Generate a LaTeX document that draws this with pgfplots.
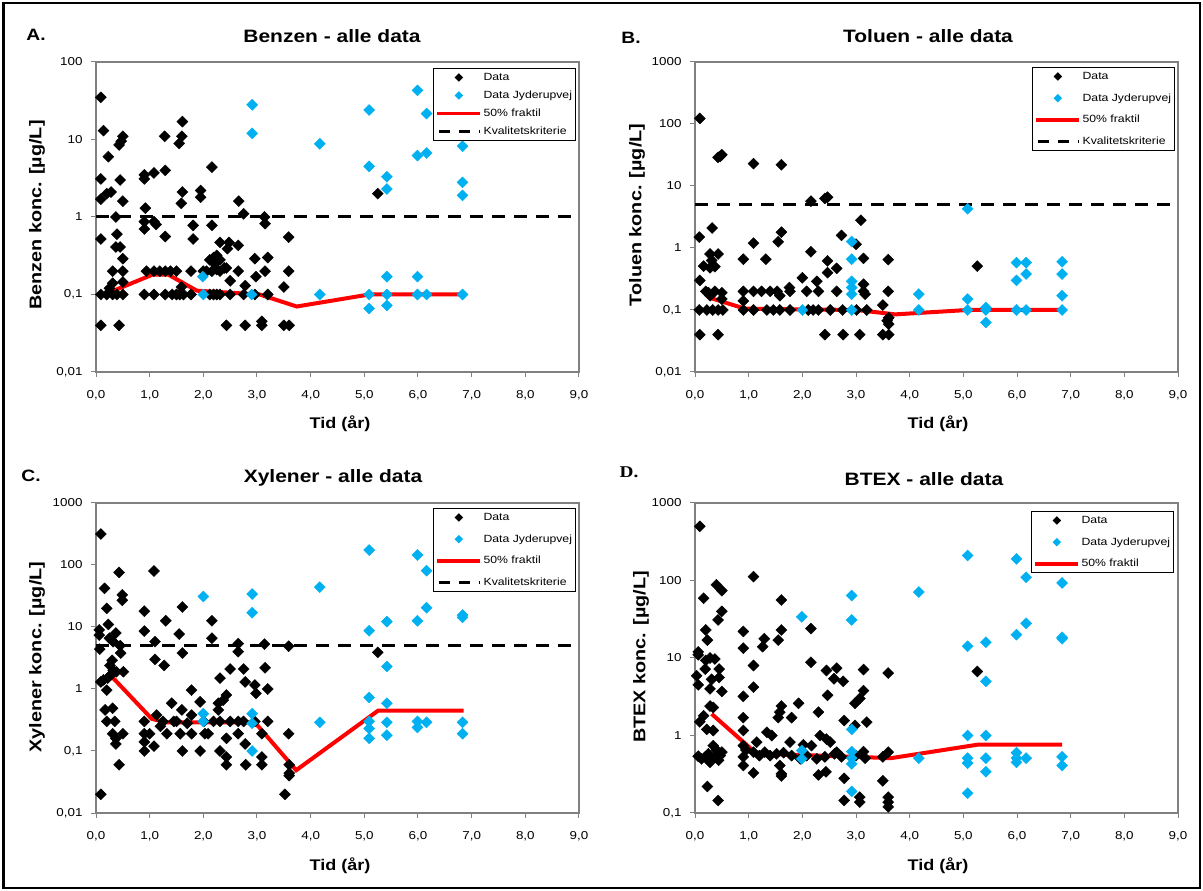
\documentclass[border=0pt]{standalone}
\usepackage{fontspec}
\setmainfont{Liberation Sans}[FakeStretch=1.17]
\newfontfamily\serifbold{Liberation Serif}[FakeStretch=1.17]
\usepackage{pgfplots}
\pgfplotsset{compat=1.18}
\definecolor{cyanD}{RGB}{0,176,240}
\definecolor{axgray}{RGB}{128,128,128}
\newcommand\titlefont{\bfseries\fontsize{18}{20}\selectfont}
\newcommand\letterfont{\bfseries\fontsize{16.5}{18}\selectfont}
\newcommand\labfont{\bfseries\fontsize{15.5}{17}\selectfont}
\newcommand\ylabfont{\bfseries\fontsize{17}{19}\selectfont}
\newcommand\tickfont{\fontsize{11.5}{13}\selectfont}
\newcommand\legfont{\fontsize{10.5}{12.5}\selectfont}
\pgfplotsset{
  mypanel/.style={
    scale only axis, width=483bp, height=310bp,
    xmin=0, xmax=9,
    xtick={0,1,2,3,4,5,6,7,8,9},
    xticklabels={{0,0},{1,0},{2,0},{3,0},{4,0},{5,0},{6,0},{7,0},{8,0},{9,0}},
    xtick pos=left, ytick pos=left, yminorticks=false,
    tick align=outside, major tick length=5bp,
    axis line style={draw=axgray, line width=1.2bp},
    tick style={draw=axgray, line width=1bp},
    tick label style={font=\tickfont},
    yticklabel style={xshift=-5bp},
    xticklabel style={yshift=-10bp},
    legend style={at={(1,1)}, anchor=north east, draw=black, line width=0.9bp,
      font=\legfont, inner xsep=2bp, inner ysep=2bp,
      nodes={inner xsep=1.5bp, inner ysep=2bp, text height=8bp, text depth=2bp}},
    legend cell align=left,
  },
  blk/.style={only marks, mark=square*, mark size=3.9bp, mark options={rotate=45, fill=black, draw=black}, forget plot},
  cyn/.style={only marks, mark=square*, mark size=3.9bp, mark options={rotate=45, fill=cyanD, draw=cyanD}, forget plot},
  med/.style={red, line width=4bp, forget plot},
  krit/.style={black, line width=3bp, dash pattern=on 13bp off 9bp, forget plot},
  legblk/.style={legend image code/.code={\path (0bp,0bp) (43bp,0bp); \fill[black] (21.5bp,3.6bp) -- (25.1bp,0bp) -- (21.5bp,-3.6bp) -- (17.9bp,0bp) -- cycle;}},
  legcyn/.style={legend image code/.code={\path (0bp,0bp) (43bp,0bp); \fill[cyanD] (21.5bp,3.6bp) -- (25.1bp,0bp) -- (21.5bp,-3.6bp) -- (17.9bp,0bp) -- cycle;}},
  legred/.style={legend image code/.code={\draw[red, line width=3.5bp] (0bp,0bp) -- (43bp,0bp);}},
  legdash/.style={legend image code/.code={\draw[black, line width=3bp, dash pattern=on 11bp off 9bp] (2bp,0bp) -- (43bp,0bp);}},
}
\begin{document}
\begin{tikzpicture}
\useasboundingbox (0bp,0bp) rectangle (1203bp,891bp);
\draw[line width=2.5bp] (3.5bp,3bp) rectangle (1200bp,888bp);

% ---------------- A. Benzen
\begin{semilogyaxis}[mypanel, at={(96bp,519bp)}, anchor=south west, ymin=0.01, ymax=100,
  ytick={0.01,0.1,1,10,100}, yticklabels={{0,01},{0,1},1,10,100},
  legend style={xshift=-3bp, yshift=-6bp, row sep=4bp}]
\addplot[krit] coordinates {(0,1) (9,1)};
\addplot[med] coordinates {(0.3,0.11) (1.05,0.18) (1.35,0.18) (1.88,0.112) (3.05,0.1) (3.74,0.07) (5.09,0.1) (6.83,0.1)};
\addplot[blk] coordinates {
(0.09,35) (0.14,13) (0.23,6) (0.09,3.1) (0.09,1.7) (0.2,2.0) (0.28,2.1) (0.37,1.0) (0.09,0.52) (0.39,0.6)
(0.37,0.41) (0.45,0.41) (0.5,0.29) (0.31,0.2) (0.5,0.2) (0.31,0.14) (0.5,0.145) (0.09,0.1) (0.2,0.1) (0.31,0.1)
(0.39,0.1) (0.5,0.1) (0.09,0.04) (0.43,0.04) (0.43,8.5) (0.47,9.5) (0.5,11) (0.45,3.0) (0.5,1.6) (0.25,0.12)
(0.9,3.1) (0.9,3.5) (1.08,3.7) (1.29,4.0) (1.28,11) (0.92,1.3) (0.9,0.87) (0.9,0.7) (1.08,0.87) (1.12,0.8)
(1.29,0.56) (0.94,0.2) (1.08,0.2) (1.19,0.2) (1.29,0.2) (1.39,0.2) (1.5,0.2) (0.9,0.1) (1.08,0.1) (1.29,0.1)
(1.42,0.1) (1.5,0.1) (1.56,0.1) (1.63,0.1) (1.55,8.9) (1.6,11) (1.61,17) (1.61,2.1) (1.59,1.5) (1.59,0.125)
(1.77,0.2) (1.77,0.1) (1.81,0.78) (1.81,0.52) (1.95,2.2) (1.95,1.8) (2.0,0.2)
(2.16,4.4) (2.16,0.78) (2.12,0.28) (2.19,0.3) (2.25,0.32) (2.31,0.28) (2.31,0.47) (2.06,0.2) (2.16,0.2) (2.25,0.21)
(2.31,0.2) (2.21,0.25) (2.39,0.22) (2.12,0.1) (2.19,0.1) (2.25,0.1) (2.31,0.1) (2.5,0.1) (2.43,0.04) (2.78,0.04)
(3.09,0.045) (3.09,0.04) (3.5,0.04) (3.6,0.04) (2.45,0.39) (2.48,0.47) (2.65,0.43) (2.43,0.22) (2.65,0.2) (2.5,0.15)
(2.66,1.6) (2.75,1.1) (2.78,0.13) (2.75,0.1) (2.96,0.29) (2.98,0.17) (2.96,0.1) (3.15,0.2) (3.2,0.3) (3.14,1.0)
(3.15,0.82) (3.2,0.1) (3.5,0.125) (3.59,0.55) (3.59,0.2) (5.25,2.0)};
\addplot[cyn] coordinates {
(1.99,0.17) (2.0,0.1) (2.91,28) (2.91,12) (2.9,0.1) (4.17,8.8) (4.17,0.1) (5.09,24) (5.99,43) (6.16,21.6)
(6.83,8.2) (5.09,4.5) (5.42,3.3) (5.42,2.3) (5.99,6.2) (6.16,6.7) (6.83,2.8) (6.83,1.9) (5.42,0.17) (5.99,0.17)
(5.09,0.1) (5.42,0.1) (5.99,0.1) (6.16,0.1) (6.83,0.1) (5.09,0.066) (5.42,0.072)};
\addlegendimage{legblk}\addlegendentry{Data}
\addlegendimage{legcyn}\addlegendentry{Data Jyderupvej}
\addlegendimage{legred}\addlegendentry{50\% fraktil}
\addlegendimage{legdash}\addlegendentry{Kvalitetskriterie}
\end{semilogyaxis}

% ---------------- B. Toluen
\begin{semilogyaxis}[mypanel, at={(695bp,519bp)}, anchor=south west, ymin=0.01, ymax=1000,
  ytick={0.01,0.1,1,10,100,1000}, yticklabels={{0,01},{0,1},1,10,100,1000},
  legend style={xshift=-3bp, yshift=-5bp, row sep=7.7bp}]
\addplot[krit] coordinates {(0,5) (9,5)};
\addplot[med] coordinates {(0.25,0.16) (0.93,0.105) (3.01,0.1) (3.73,0.085) (5.08,0.1) (6.84,0.1)};
\addplot[blk] coordinates {
(0.09,123) (0.43,29) (0.5,32) (0.47,30) (1.09,23) (1.61,22) (2.16,5.7) (2.42,6.3) (2.47,6.6) (3.09,2.8)
(0.08,1.5) (0.32,2.1) (1.09,1.2) (1.61,1.8) (1.55,1.26) (2.73,1.6) (3.0,1.15) (2.16,0.87) (0.28,0.8) (0.43,0.8)
(0.31,0.63) (0.16,0.51) (0.28,0.48) (0.37,0.5) (0.09,0.3) (0.9,0.66) (1.32,0.66) (3.14,0.68) (3.6,0.65) (2.47,0.62)
(2.47,0.4) (2.64,0.47) (2.0,0.33) (2.27,0.29)
(0.9,0.2) (1.09,0.2) (1.24,0.2) (1.4,0.2) (1.53,0.2) (1.77,0.2) (2.08,0.2) (2.3,0.2) (2.64,0.2) (3.14,0.2) (3.6,0.2)
(0.2,0.2) (0.25,0.19) (0.37,0.2) (0.5,0.19) (0.28,0.17) (0.5,0.15) (1.58,0.17) (1.76,0.23) (3.14,0.26) (3.17,0.18) (0.9,0.14)
(0.08,0.1) (0.22,0.1) (0.33,0.1) (0.43,0.1) (0.52,0.1) (0.9,0.1) (1.09,0.1) (1.34,0.1) (1.46,0.1) (1.58,0.1)
(1.77,0.1) (2.11,0.1) (2.2,0.1) (2.3,0.1) (2.52,0.1) (2.75,0.1) (3.01,0.1) (3.2,0.1)
(3.5,0.12) (3.61,0.075) (3.61,0.059) (3.58,0.067)
(0.09,0.04) (0.43,0.04) (2.42,0.04) (2.76,0.04) (3.07,0.04) (3.5,0.04) (3.61,0.04) (5.26,0.51)};
\addplot[cyn] coordinates {
(2.92,1.27) (2.92,0.66) (2.92,0.29) (2.92,0.23) (2.92,0.18) (2.92,0.1) (2.0,0.1) (4.17,0.18) (4.17,0.1) (5.08,4.3)
(5.99,0.58) (6.17,0.58) (5.99,0.3) (6.17,0.38) (6.84,0.6) (6.84,0.38) (6.84,0.17) (5.08,0.15) (5.08,0.1) (5.42,0.1)
(5.99,0.1) (6.17,0.1) (6.84,0.1) (5.42,0.11) (5.42,0.063)};
\addlegendimage{legblk}\addlegendentry{Data}
\addlegendimage{legcyn}\addlegendentry{Data Jyderupvej}
\addlegendimage{legred}\addlegendentry{50\% fraktil}
\addlegendimage{legdash}\addlegendentry{Kvalitetskriterie}
\end{semilogyaxis}

% ---------------- C. Xylener
\begin{semilogyaxis}[mypanel, at={(96bp,78bp)}, anchor=south west, ymin=0.01, ymax=1000,
  ytick={0.01,0.1,1,10,100,1000}, yticklabels={{0,01},{0,1},1,10,100,1000},
  legend style={xshift=-3bp, yshift=-5bp, row sep=7.7bp}]
\addplot[krit] coordinates {(0,5) (9,5)};
\addplot[med] coordinates {(0.32,1.5) (1.04,0.33) (1.3,0.29) (2.96,0.29) (3.73,0.049) (5.26,0.45) (6.85,0.45)};
\addplot[blk] coordinates {
(0.09,316) (0.16,42) (0.43,76) (0.49,33) (0.49,27) (0.2,20) (0.23,11) (0.37,8) (0.06,9) (0.06,7.4)
(0.25,6.6) (0.32,5.8) (0.07,4.4) (0.45,5) (0.46,3.8) (0.3,2.9) (0.26,2.4) (0.32,2.0) (0.38,1.9) (0.09,1.3)
(0.2,0.96) (0.51,1.9) (0.17,0.46) (0.31,0.49) (0.2,0.3) (0.35,0.3) (0.31,0.19) (0.5,0.19) (0.37,0.13) (0.37,0.16)
(0.43,0.06) (0.09,0.02) (0.22,1.5) (0.28,1.7) (0.14,1.4)
(1.08,80) (0.9,18) (0.9,8.6) (1.1,5.8) (1.3,12.6) (1.1,3.0) (1.27,2.4) (1.61,21) (1.55,7.7) (1.61,3.8)
(0.9,0.3) (0.9,0.19) (0.9,0.14) (0.9,0.1) (1.0,0.19) (1.08,0.12) (1.13,0.38) (1.25,0.3) (1.32,0.19) (1.41,0.59)
(1.5,0.3) (1.6,0.46) (1.57,0.19) (1.61,0.1) (1.78,0.96) (1.78,0.38) (1.78,0.19) (1.94,0.62) (1.94,0.1) (2.01,0.3)
(2.03,0.19) (2.09,0.19) (2.16,12.6) (2.16,6.6) (2.31,1.5) (2.28,0.59) (2.28,0.46) (2.31,0.1) (2.37,0.66) (2.43,0.8)
(2.19,0.3) (2.31,0.3) (2.5,0.3) (2.65,0.3) (2.75,0.3) (2.43,0.16) (2.43,0.08) (2.43,0.06) (2.5,2.1) (2.65,5.4)
(2.65,4.0) (2.65,0.19) (2.75,2.1) (2.78,1.3) (2.78,0.13) (2.96,1.16) (2.98,0.85) (2.96,0.3) (3.09,0.19) (2.79,0.06)
(3.09,0.08) (3.09,0.06) (3.14,5.3) (3.15,2.2) (3.2,1.0) (3.2,0.3) (3.59,4.9) (3.59,0.19) (3.6,0.06) (3.6,0.044)
(3.6,0.04) (3.52,0.02) (5.25,3.9) (1.2,0.25) (1.45,0.3) (1.7,0.28)};
\addplot[cyn] coordinates {
(2.0,31) (2.91,34) (2.91,17) (4.17,44) (2.0,0.4) (2.0,0.3) (2.91,0.4) (2.91,0.28) (2.91,0.1) (4.17,0.29)
(5.09,174) (5.99,145) (6.16,81) (6.16,20.5) (5.99,12.6) (5.42,12.2) (5.09,8.7) (6.83,15.6) (6.83,14.3) (5.42,2.3)
(5.09,0.73) (5.42,0.59) (5.09,0.3) (5.09,0.23) (5.09,0.16) (5.42,0.29) (5.42,0.18) (5.99,0.3) (5.99,0.24) (6.16,0.29)
(6.83,0.29) (6.83,0.19)};
\addlegendimage{legblk}\addlegendentry{Data}
\addlegendimage{legcyn}\addlegendentry{Data Jyderupvej}
\addlegendimage{legred}\addlegendentry{50\% fraktil}
\addlegendimage{legdash}\addlegendentry{Kvalitetskriterie}
\end{semilogyaxis}

% ---------------- D. BTEX
\begin{semilogyaxis}[mypanel, at={(695bp,78bp)}, anchor=south west, ymin=0.1, ymax=1000,
  ytick={0.1,1,10,100,1000}, yticklabels={{0,1},1,10,100,1000},
  legend style={xshift=-4bp, yshift=-8bp, row sep=7.7bp}]
\addplot[med] coordinates {(0.31,1.9) (1.15,0.58) (2.0,0.56) (3.0,0.53) (3.65,0.51) (5.26,0.76) (6.84,0.76)};
\addplot[blk] coordinates {
(0.09,500) (1.09,112) (0.16,59) (0.4,88) (0.5,74) (1.61,56) (0.5,40) (0.43,31) (0.2,23) (0.23,17)
(0.06,12) (0.06,11) (0.9,22) (0.9,13.4) (1.29,17.7) (1.26,14) (1.55,17) (1.61,23) (2.16,24) (0.2,9.3)
(0.28,10) (0.37,9.7) (0.19,7.2) (0.03,5.9) (0.06,4.5) (0.45,7.2) (0.45,5.6) (0.31,5.3) (0.5,3.7) (0.28,4.0)
(1.09,8.0) (1.09,4.2) (0.9,3.2) (0.9,1.7) (2.16,8.8) (2.45,6.9) (2.64,7.4) (2.59,5.4) (2.76,5.0) (3.14,7.1)
(3.6,6.4) (2.47,3.3) (3.14,3.8) (3.07,3.0) (2.98,2.6) (1.61,2.4) (1.58,2.0) (1.55,1.7) (1.93,2.6) (1.8,1.7)
(2.3,2.0) (0.28,2.4) (0.16,1.8) (0.09,1.5) (0.34,2.3) (0.22,1.2) (0.34,1.16) (2.78,1.56) (2.98,1.35) (3.2,1.49)
(0.9,1.16) (1.34,1.1) (1.43,1.0)
(0.06,0.54) (0.19,0.53) (0.28,0.45) (0.37,0.53) (0.47,0.55) (0.34,0.74) (0.5,0.61) (0.9,0.74) (0.9,0.53) (0.9,0.41)
(1.09,0.61) (1.15,0.82) (1.3,0.61) (1.4,0.55) (1.52,0.58) (1.58,0.41) (1.61,0.32) (1.77,0.82) (1.8,0.55) (1.96,0.5)
(2.02,0.76) (2.08,0.55) (2.17,0.74) (2.27,0.5) (2.33,1.0) (2.42,0.53) (2.45,0.9) (2.52,0.82) (2.64,0.61) (2.73,0.53)
(3.14,0.62) (3.17,0.51) (3.5,0.53) (3.6,0.61)
(0.12,0.5) (0.25,0.58) (0.4,0.65) (0.44,0.48) (0.95,0.65) (1.2,0.55) (1.65,0.6) (2.6,0.58) (3.0,0.55)
(0.23,0.22) (0.43,0.145) (1.09,0.33) (1.61,0.3) (2.3,0.31) (2.44,0.34) (2.78,0.28) (2.78,0.145) (3.07,0.16) (3.07,0.138)
(3.5,0.26) (3.6,0.16) (3.6,0.138) (3.6,0.12) (5.26,6.7)};
\addplot[cyn] coordinates {
(1.99,34) (2.92,64) (2.92,31) (4.17,71) (2.92,1.2) (1.99,0.64) (1.99,0.5) (2.92,0.62) (2.92,0.51) (2.92,0.43)
(2.92,0.19) (4.17,0.51) (5.08,210) (5.99,190) (6.17,110) (6.84,93) (5.08,14.2) (5.42,16) (5.99,20) (6.17,28)
(6.84,18.5) (6.84,17.7) (5.42,5.0) (5.08,1.0) (5.42,1.0) (5.08,0.51) (5.08,0.44) (5.42,0.51) (5.42,0.34) (5.99,0.6)
(5.99,0.51) (5.99,0.45) (6.17,0.51) (6.84,0.53) (6.84,0.41) (5.08,0.18)};
\addlegendimage{legblk}\addlegendentry{Data}
\addlegendimage{legcyn}\addlegendentry{Data Jyderupvej}
\addlegendimage{legred}\addlegendentry{50\% fraktil}
\end{semilogyaxis}

% ---------------- texts
\begin{scope}[x=1bp,y=1bp]
\node[font=\letterfont] at (36,856) {A.};
\node[font=\letterfont] at (631,853) {B.};
\node[font=\letterfont] at (31,415) {C.};
\node[font=\serifbold\bfseries\fontsize{16.5}{18}\selectfont] at (629,419) {D.};
\node[font=\titlefont] at (332,855) {Benzen - alle data};
\node[font=\titlefont] at (928,855) {Toluen - alle data};
\node[font=\titlefont] at (333,413) {Xylener - alle data};
\node[font=\titlefont] at (924,412) {BTEX - alle data};
\node[font=\ylabfont, rotate=90] at (37,676) {Benzen konc. [µg/L]};
\node[font=\ylabfont, rotate=90] at (637,676) {Toluen konc. [µg/L]};
\node[font=\ylabfont, rotate=90] at (37,234) {Xylener konc. [µg/L]};
\node[font=\ylabfont, rotate=90] at (641,234) {BTEX konc. [µg/L]};
\node[font=\labfont] at (340,467) {Tid (år)};
\node[font=\labfont] at (938,467) {Tid (år)};
\node[font=\labfont] at (340,25) {Tid (år)};
\node[font=\labfont] at (938,25) {Tid (år)};
\end{scope}
\end{tikzpicture}
\end{document}
